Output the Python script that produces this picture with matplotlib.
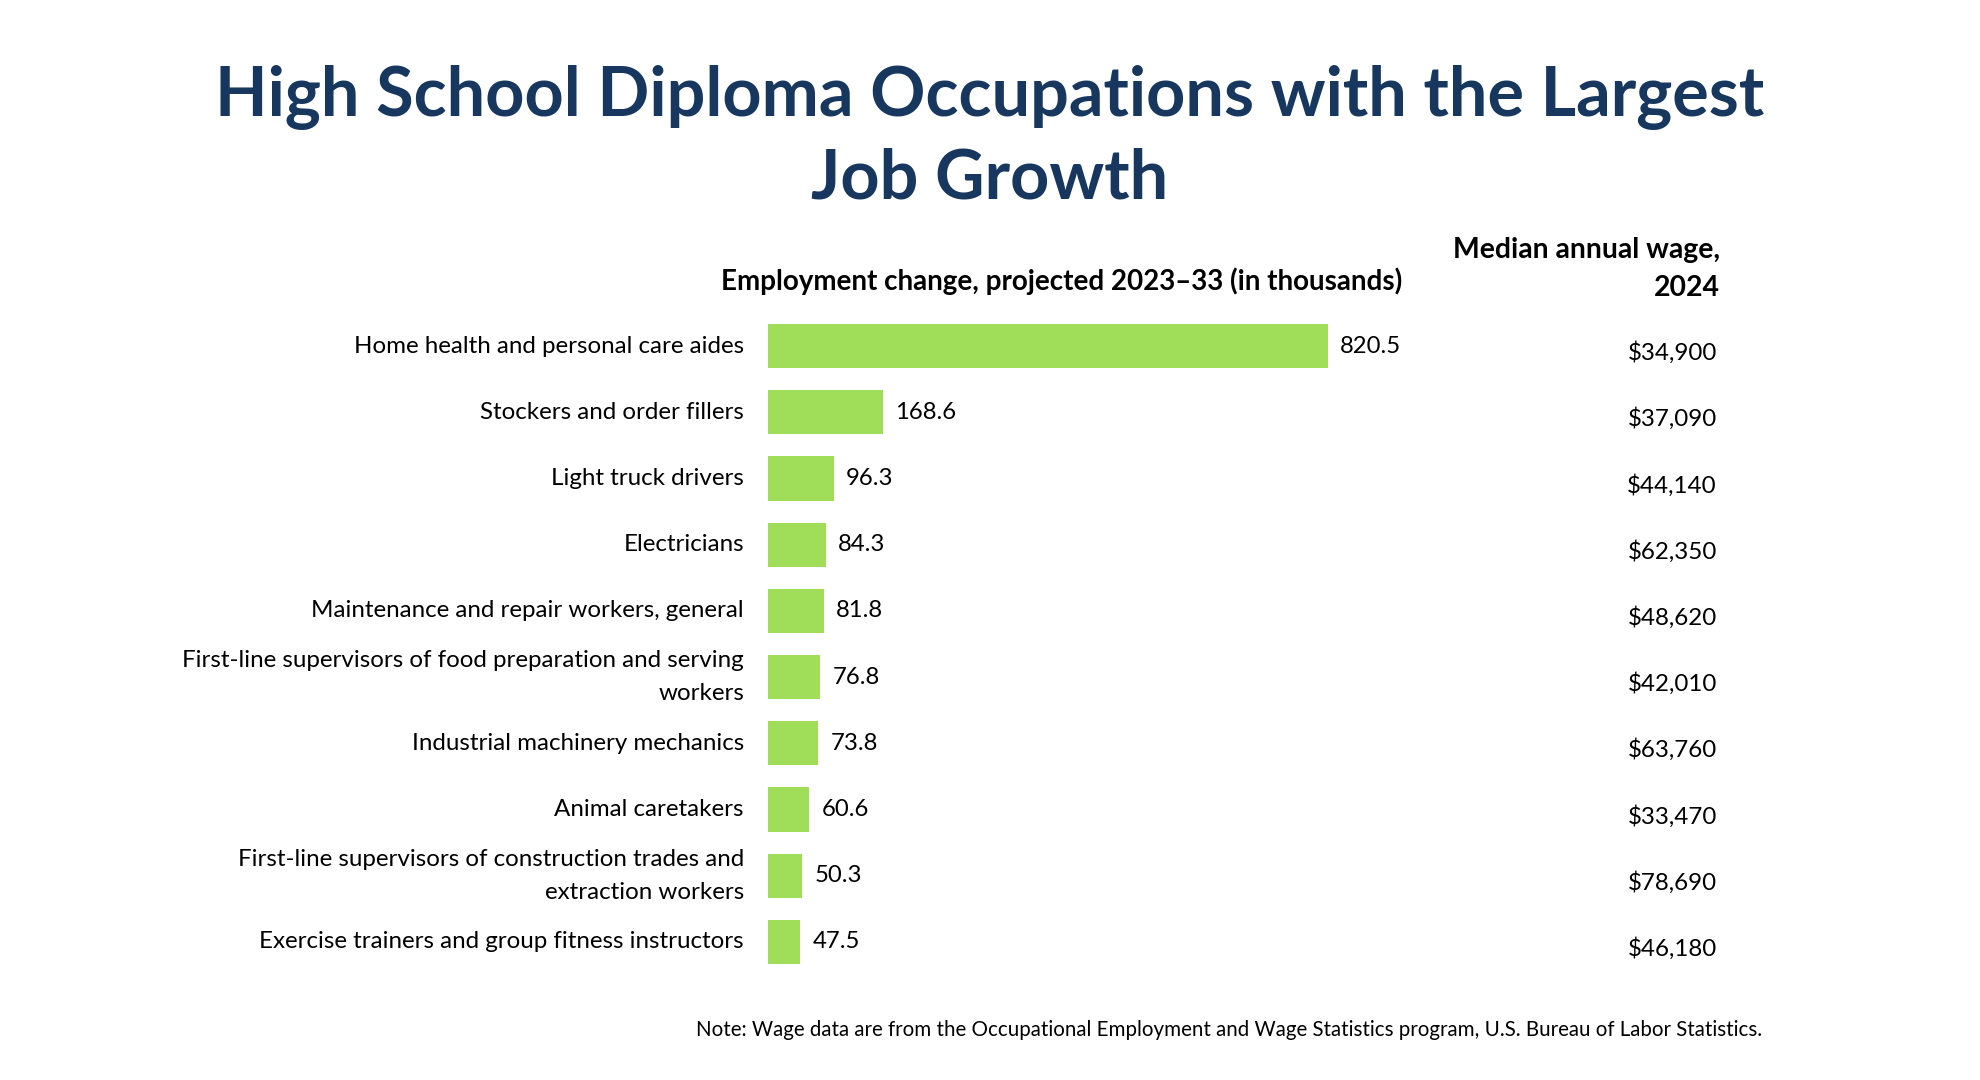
import matplotlib
matplotlib.use('Agg')
import matplotlib.pyplot as plt
import matplotlib.transforms as mtransforms

plt.rcParams['font.family'] = ['Lato', 'DejaVu Sans']

occupations = [
    'Home health and personal care aides',
    'Stockers and order fillers',
    'Light truck drivers',
    'Electricians',
    'Maintenance and repair workers, general',
    'First-line supervisors of food preparation and serving\nworkers',
    'Industrial machinery mechanics',
    'Animal caretakers',
    'First-line supervisors of construction trades and\nextraction workers',
    'Exercise trainers and group fitness instructors',
]
emp_change = [820.5, 168.6, 96.3, 84.3, 81.8, 76.8, 73.8, 60.6, 50.3, 47.5]
wages = ['$34,900', '$37,090', '$44,140', '$62,350', '$48,620',
         '$42,010', '$63,760', '$33,470', '$78,690', '$46,180']

W, H = 1980, 1080
fig = plt.figure(figsize=(W / 100, H / 100), dpi=100)

# bar area: 0 -> 820.5 spans x 768..1328 px, rows from y 312..974 px (top down)
ax = fig.add_axes([768 / W, 1 - 975 / H, (1328 - 768) / W, (975 - 313) / H])
ypos = list(range(len(occupations)))
ax.barh(ypos, emp_change, height=0.67, color='#A0DE5A')
ax.set_xlim(0, 820.5)
ax.set_ylim(len(occupations) - 0.5, -0.5)
ax.axis('off')

for y, v in zip(ypos, emp_change):
    ax.annotate(f'{v:.1f}', (v, y), xytext=(12, 0), textcoords='offset pixels',
                va='center', ha='left', fontsize=17.2, color='black',
                annotation_clip=False)

# category labels, right aligned left of the bars
lab_tr = mtransforms.blended_transform_factory(fig.transFigure, ax.transData)
for y, name in zip(ypos, occupations):
    fig.text(744 / W, y, name, transform=lab_tr, ha='right', va='center',
             fontsize=17.4, linespacing=1.7)

# wage column
for y, w in zip(ypos, wages):
    fig.text(1717 / W, y + 0.1, w, transform=lab_tr, ha='right', va='center',
             fontsize=17.4)

# title and headers
fig.text(0.5, 1 - 98 / H, 'High School Diploma Occupations with the Largest',
         ha='center', va='center', fontsize=49.2, fontweight='bold', color='#17375E')
fig.text(0.5, 1 - 179 / H, 'Job Growth',
         ha='center', va='center', fontsize=49.2, fontweight='bold', color='#17375E')
fig.text(1402 / W, 1 - 281 / H,
         'Employment change, projected 2023\u201333 (in thousands)',
         ha='right', va='center', fontsize=20, fontweight='bold')
fig.text(1720 / W, 1 - 269 / H, 'Median annual wage,\n2024',
         ha='right', va='center', fontsize=20.4, fontweight='bold', linespacing=1.6)

fig.text(1762 / W, 1 - 1030 / H,
         'Note: Wage data are from the Occupational Employment and Wage Statistics '
         'program, U.S. Bureau of Labor Statistics.',
         ha='right', va='center', fontsize=14.8)

fig.savefig('out.png', dpi=100, facecolor='white')
